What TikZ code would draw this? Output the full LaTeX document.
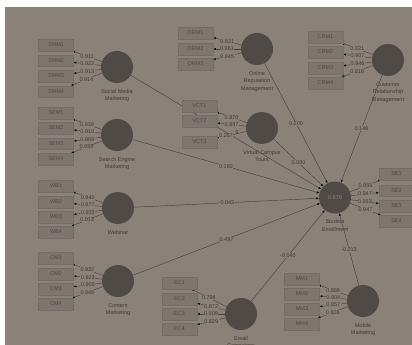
\documentclass[tikz,border=0pt]{standalone}
\usepackage{fontspec}
\setmainfont{Liberation Sans}
\usetikzlibrary{arrows.meta,positioning,backgrounds}
\definecolor{canvas}{HTML}{8A8279}
\definecolor{lvfill}{HTML}{4F4A45}
\definecolor{boxfill}{HTML}{7E766E}
\definecolor{boxedge}{HTML}{746D66}
\definecolor{linecol}{HTML}{47423D}
\definecolor{labcol}{HTML}{3E3A36}
\definecolor{boxtext}{HTML}{4E4843}
\definecolor{rsqcol}{HTML}{8E867E}
\begin{document}
\begin{tikzpicture}[x=1pt, y=-1pt,
        lv/.style={circle, fill=lvfill, minimum size=32pt, inner sep=0pt, text=rsqcol, font=\fontsize{5.5}{6}\selectfont},
        ind/.style={rectangle, fill=boxfill, draw=boxedge, line width=0.4pt, minimum width=35pt, minimum height=11.5pt, inner sep=0pt, text=boxtext, font=\fontsize{5.5}{6}\selectfont},
        lvname/.style={align=center, inner sep=0pt, text=labcol, font=\fontsize{5.5}{7.4}\selectfont},
        coef/.style={fill=canvas, inner sep=0.5pt, text=labcol, font=\fontsize{5.5}{6}\selectfont},
        link/.style={draw=linecol, line width=0.45pt, -{Latex[length=2.6pt,width=2.2pt,black]}}]
        \useasboundingbox (0,0) rectangle (412,345);

        \node[lv] (smm) at (117,67) {};
        \node[lvname, below=6pt of smm] (smmname) {Social Media\\Marketing};
        \node[ind] (smm1) at (56,45) {SMM1};
        \node[ind] (smm2) at (56,60.5) {SMM2};
        \node[ind] (smm3) at (56,76) {SMM3};
        \node[ind] (smm4) at (56,91.5) {SMM4};

        \node[lv] (sem) at (117,135) {};
        \node[lvname, below=6pt of sem] (semname) {Search Engine\\Marketing};
        \node[ind] (sem1) at (56,113) {SEM1};
        \node[ind] (sem2) at (56,128) {SEM2};
        \node[ind] (sem3) at (56,143.5) {SEM3};
        \node[ind] (sem4) at (56,159) {SEM4};

        \node[lv] (wb) at (118,208) {};
        \node[lvname, below=6pt of wb] (wbname) {Webinar};
        \node[ind] (wb1) at (56,186) {WB1};
        \node[ind] (wb2) at (56,202) {WB2};
        \node[ind] (wb3) at (56,217) {WB3};
        \node[ind] (wb4) at (56,232) {WB4};

        \node[lv] (cm) at (118,281) {};
        \node[lvname, below=6pt of cm] (cmname) {Content\\Marketing};
        \node[ind] (cm1) at (56,258) {CM1};
        \node[ind] (cm2) at (56,274) {CM2};
        \node[ind] (cm3) at (56,289) {CM3};
        \node[ind] (cm4) at (56,304) {CM4};

        \node[lv] (orm) at (257,49) {};
        \node[lvname, below=6pt of orm] (ormname) {Online\\Reputation\\Management};
        \node[ind] (orm1) at (195.5,33) {ORM1};
        \node[ind] (orm2) at (195.5,49) {ORM2};
        \node[ind] (orm3) at (195.5,64) {ORM3};

        \node[lv] (vct) at (262,128) {};
        \node[lvname, below=6pt of vct] (vctname) {Virtual Campus\\Tours};
        \node[ind] (vct1) at (199.5,106) {VCT1};
        \node[ind] (vct2) at (199.5,121) {VCT2};
        \node[ind] (vct3) at (199.5,142) {VCT3};

        \node[lv] (crm) at (388,60) {};
        \node[lvname, below=6pt of crm] (crmname) {Customer\\Relationship\\Management};
        \node[ind] (crm1) at (325.5,37) {CRM1};
        \node[ind] (crm2) at (325.5,52) {CRM2};
        \node[ind] (crm3) at (325.5,68) {CRM3};
        \node[ind] (crm4) at (325.5,83) {CRM4};

        \node[lv] (se) at (335,197.5) {0.879};
        \node[lvname, below=6pt of se] (sename) {Student\\Enrollment};
        \node[ind] (se1) at (396.5,174) {SE1};
        \node[ind] (se2) at (396.5,190.5) {SE2};
        \node[ind] (se3) at (396.5,206) {SE3};
        \node[ind] (se4) at (396.5,221) {SE4};

        \node[lv] (ec) at (241,314) {};
        \node[lvname, below=6pt of ec] (ecname) {Email\\Campaigns};
        \node[ind] (ec1) at (179.5,283) {EC1};
        \node[ind] (ec2) at (179.5,299) {EC2};
        \node[ind] (ec3) at (179.5,314) {EC3};
        \node[ind] (ec4) at (179.5,329) {EC4};

        \node[lv] (mm) at (363,301) {};
        \node[lvname, below=6pt of mm] (mmname) {Mobile\\Marketing};
        \node[ind] (mm1) at (302,279) {MM1};
        \node[ind] (mm2) at (302,294) {MM2};
        \node[ind] (mm3) at (302,309) {MM3};
        \node[ind] (mm4) at (302,324) {MM4};

        \begin{pgfonlayer}{background}
        \fill[white] (0,0) rectangle (412,345);
        \fill[canvas] (5,7) rectangle (412,345);

        \draw[link] (smm) -- (se);
        \node[coef] (smmcoef) at (237,133) {9};
        \draw[link] (orm) -- node[coef] {0.200} (se);
        \draw[link] (vct) -- node[coef] {0.080} (se);
        \draw[link] (crm) -- node[coef] {0.146} (se);
        \draw[link] (sem) -- node[coef] {0.182} (se);
        \draw[link] (wb) -- node[coef] {-0.043} (se);
        \draw[link] (cm) -- node[coef] {0.497} (se);
        \draw[link] (ec) -- node[coef] {-0.040} (se);
        \draw[link] (mm) -- node[coef] {-0.213} (se);

        \draw[link] (smm) -- node[coef] {0.911} (smm1);
        \draw[link] (smm) -- node[coef] {0.922} (smm2);
        \draw[link] (smm) -- node[coef] {0.913} (smm3);
        \draw[link] (smm) -- node[coef] {0.914} (smm4);

        \draw[link] (sem) -- node[coef] {0.939} (sem1);
        \draw[link] (sem) -- node[coef] {0.910} (sem2);
        \draw[link] (sem) -- node[coef] {0.869} (sem3);
        \draw[link] (sem) -- node[coef] {0.955} (sem4);

        \draw[link] (wb) -- node[coef] {0.940} (wb1);
        \draw[link] (wb) -- node[coef] {0.977} (wb2);
        \draw[link] (wb) -- node[coef] {0.935} (wb3);
        \draw[link] (wb) -- node[coef] {0.913} (wb4);

        \draw[link] (cm) -- node[coef] {0.932} (cm1);
        \draw[link] (cm) -- node[coef] {0.923} (cm2);
        \draw[link] (cm) -- node[coef] {0.905} (cm3);
        \draw[link] (cm) -- node[coef] {0.948} (cm4);

        \draw[link] (orm) -- node[coef] {0.921} (orm1);
        \draw[link] (orm) -- node[coef] {0.961} (orm2);
        \draw[link] (orm) -- node[coef] {0.845} (orm3);

        \draw[link] (vct) -- node[coef] {0.870} (vct1);
        \draw[link] (vct) -- node[coef] {0.897} (vct2);
        \draw[link] (vct) -- node[coef, pos=0.7] {0.267} (vct3);

        \draw[link] (crm) -- node[coef] {0.921} (crm1);
        \draw[link] (crm) -- node[coef] {0.907} (crm2);
        \draw[link] (crm) -- node[coef] {0.946} (crm3);
        \draw[link] (crm) -- node[coef] {0.816} (crm4);

        \draw[link] (se) -- node[coef] {0.955} (se1);
        \draw[link] (se) -- node[coef] {0.947} (se2);
        \draw[link] (se) -- node[coef] {0.953} (se3);
        \draw[link] (se) -- node[coef] {0.947} (se4);

        \draw[link] (ec) -- node[coef] {0.798} (ec1);
        \draw[link] (ec) -- node[coef] {0.872} (ec2);
        \draw[link] (ec) -- node[coef] {0.909} (ec3);
        \draw[link] (ec) -- node[coef] {0.829} (ec4);

        \draw[link] (mm) -- node[coef] {0.888} (mm1);
        \draw[link] (mm) -- node[coef] {0.904} (mm2);
        \draw[link] (mm) -- node[coef] {0.857} (mm3);
        \draw[link] (mm) -- node[coef] {0.826} (mm4);
        \end{pgfonlayer}
\end{tikzpicture}
\end{document}
